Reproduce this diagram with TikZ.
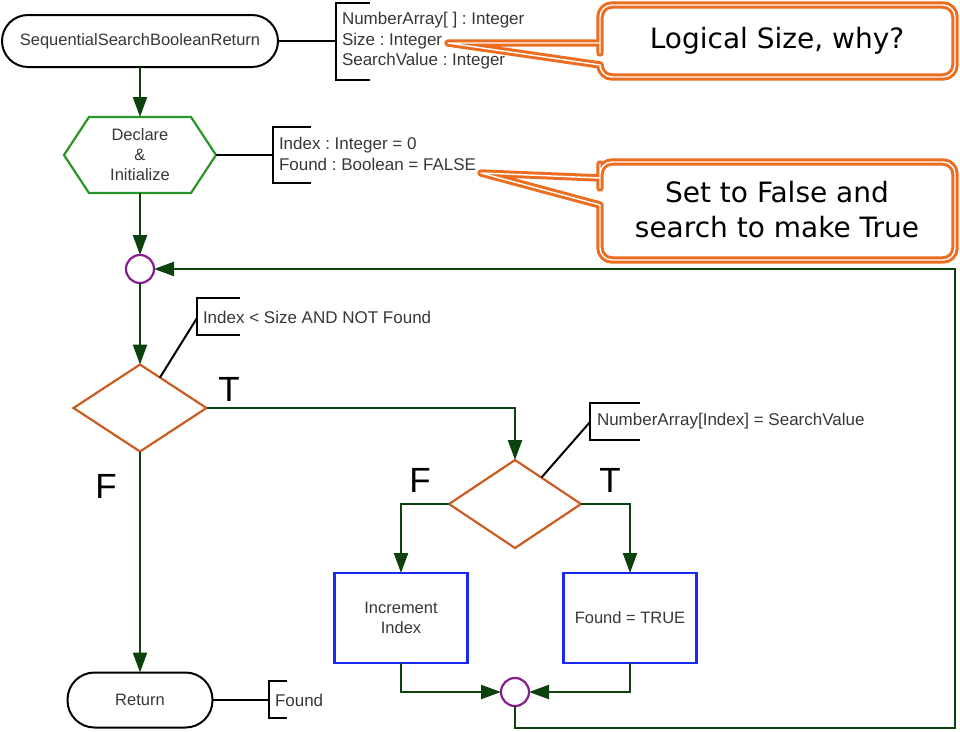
\documentclass[tikz,border=0pt]{standalone}
\usepackage{fontspec}
\setmainfont{Liberation Sans}
\newfontfamily\calloutfont{DejaVu Sans}
\usetikzlibrary{arrows.meta,shapes.geometric,calc}
\definecolor{flowgreen}{RGB}{12,66,12}
\definecolor{hexgreen}{RGB}{40,150,40}
\definecolor{decorange}{RGB}{204,92,32}
\definecolor{joinpurple}{RGB}{135,30,145}
\definecolor{procblue}{RGB}{25,40,245}
\definecolor{callorange}{RGB}{236,108,32}
\definecolor{txtgrey}{RGB}{55,55,55}
\frenchspacing
\begin{document}
\begin{tikzpicture}[x=1pt,y=-1pt,
  every node/.style={inner sep=0pt, outer sep=0pt},
  flow/.style={draw=flowgreen, line width=2.3pt, -{Triangle[length=20pt,width=14pt]}},
  terminal/.style={draw=black, line width=2pt, text=txtgrey, font=\fontsize{16.5}{20}\selectfont},
  hexbox/.style={align=center, text=txtgrey, font=\fontsize{16.5}{20}\selectfont, minimum width=152pt, minimum height=76pt},
  decision/.style={diamond, draw=decorange, line width=2.2pt},
  process/.style={draw=procblue, line width=2.4pt, minimum width=133pt, minimum height=90pt, align=center, text=txtgrey, font=\fontsize{16.5}{20}\selectfont},
  junction/.style={circle, draw=joinpurple, line width=2.2pt, minimum size=28pt},
  bracket/.style={draw=black, line width=2pt},
  annot/.style={anchor=west, align=left, text=txtgrey, font=\fontsize{17}{20.5}\selectfont},
  tf/.style={font=\fontsize{35}{35}\selectfont, text=black},
  callout/.style={draw=callorange, line width=3pt, double=white, double distance=1.4pt, fill=white, line join=round},
  calltext/.style={align=center, font=\calloutfont\fontsize{28}{35}\selectfont, text=black},
]
\useasboundingbox (0,0) rectangle (960,731);

% nodes
\node[terminal, rounded corners=26pt, minimum width=276pt, minimum height=52pt] (start) at (140,41) {SequentialSearchBooleanReturn};
\node[hexbox] (init) at (140,155) {Declare\\\&\\Initialize};
\draw[hexgreen, line width=2.2pt] (init.west) -- ([xshift=25pt]init.north west) -- ([xshift=-25pt]init.north east) -- (init.east) -- ([xshift=-25pt]init.south east) -- ([xshift=25pt]init.south west) -- cycle;
\node[junction] (tj) at (140,269) {};
\node[decision, minimum width=133pt, minimum height=87pt] (d1) at (140,408) {};
\node[decision, minimum width=132pt, minimum height=88pt] (d2) at (515,504) {};
\node[process] (inc) at (401,618) {Increment\\Index};
\node[process] (fnd) at (630,618) {Found = TRUE};
\node[junction] (bj) at (515,692) {};
\node[terminal, rounded corners=27pt, minimum width=145pt, minimum height=55pt] (ret) at (140,700) {Return};

% annotations
\coordinate (b1) at (336,41);
\draw[bracket] (370,3) -- (336,3) -- (336,80) -- (370,80);
\draw[bracket] (start.east) -- (b1);
\node[annot] (a1) at (342,41) {NumberArray[ ] : Integer\\Size : Integer\\SearchValue : Integer};

\coordinate (b2) at (273,155);
\draw[bracket] (311,127) -- (273,127) -- (273,183) -- (311,183);
\draw[bracket] (init.east) -- (b2);
\node[annot] (a2) at (279,154) {Index : Integer = 0\\Found : Boolean = FALSE};

\coordinate (b3) at (197,318);
\draw[bracket] (240,298) -- (197,298) -- (197,335) -- (240,335);
\draw[bracket] ($(d1.north)!0.3!(d1.east)$) -- (b3);
\node[annot] (a3) at (203,317) {Index < Size AND NOT Found};

\coordinate (b4) at (590,422);
\draw[bracket] (640,403) -- (590,403) -- (590,440) -- (640,440);
\draw[bracket] ($(d2.north)!0.4!(d2.east)$) -- (b4);
\node[annot] (a4) at (597,421) {NumberArray[Index] = SearchValue};

\coordinate (b5) at (269,700);
\draw[bracket] (287,681) -- (269,681) -- (269,718) -- (287,718);
\draw[bracket] (ret.east) -- (b5);
\node[annot] (a5) at (275,700) {Found};

% flows
\draw[flow] (start.south) -- (init.north);
\draw[flow] (init.south) -- (tj.north);
\draw[flow] (tj.south) -- (d1.north);
\draw[flow] (d1.east) -| (d2.north);
\draw[flow] (d1.south) -- (ret.north);
\draw[flow] (d2.west) -| (inc.north);
\draw[flow] (d2.east) -| (fnd.north);
\draw[flow] (inc.south) |- (bj.west);
\draw[flow] (fnd.south) |- (bj.east);
\coordinate (lc) at (955,728);
\draw[flow] (bj.south) |- (lc) |- (tj.east);

% T/F labels
\node[tf] (t1) at (229,389) {T};
\node[tf] (f1) at (106,486) {F};
\node[tf] (f2) at (420,480) {F};
\node[tf] (t2) at (610,480) {T};

% callouts
\draw[callout] (600,43) -- (448,43) -- (600,65) -- (600,67) [rounded corners=12pt] -- (600,77) -- (955,77) -- (955,5) -- (600,5) -- (600,41) [sharp corners] -- cycle;
\node[calltext] (c1) at (777,41) {Logical Size, why?};

\draw[callout] (600,178) -- (481,173) -- (600,205) -- (600,207) [rounded corners=12pt] -- (600,260) -- (955,260) -- (955,162) -- (600,162) -- (600,176) [sharp corners] -- cycle;
\node[calltext] (c2) at (777,210) {Set to False and\\search to make True};
\end{tikzpicture}
\end{document}
